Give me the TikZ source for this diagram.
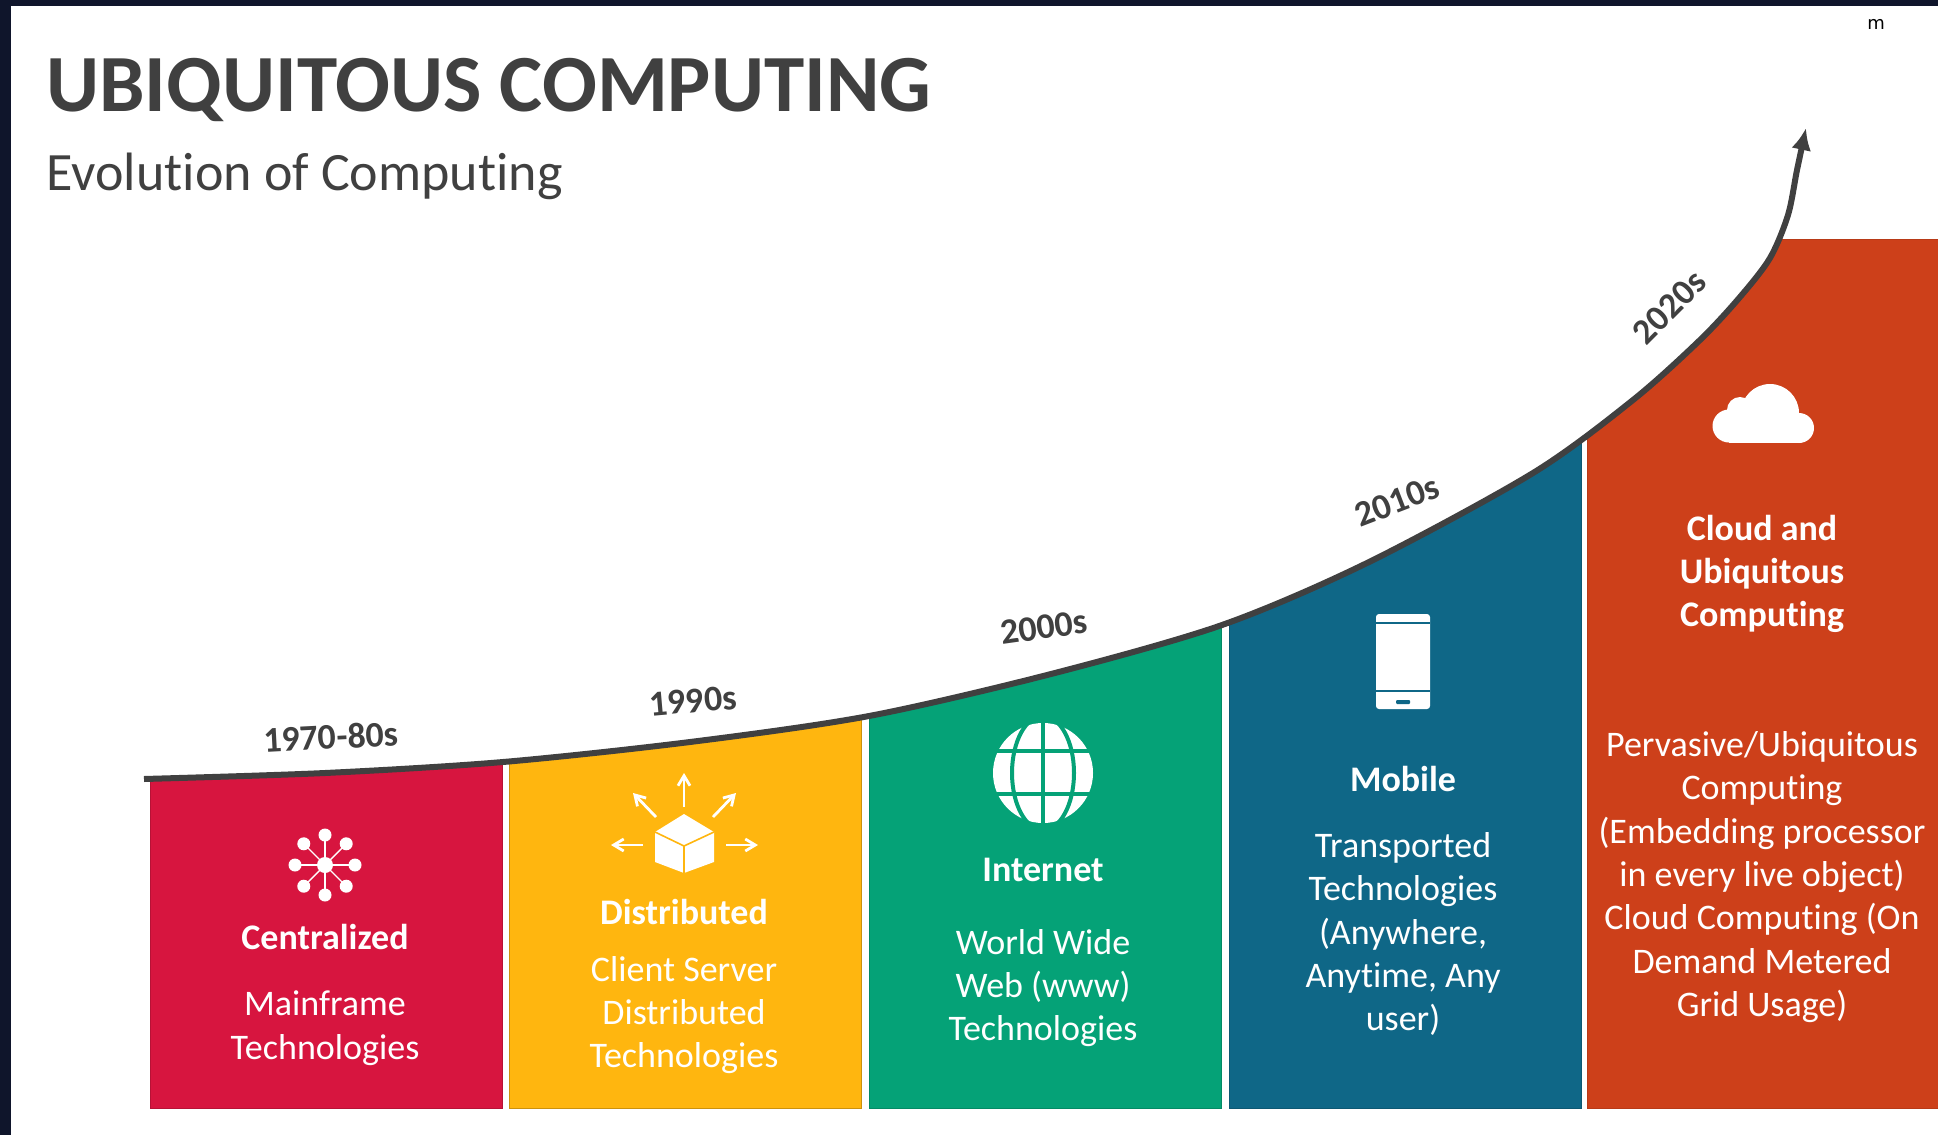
\documentclass[tikz,border=0pt]{standalone}
\usepackage{fontspec}
\usepackage{tikz}
\usetikzlibrary{arrows.meta, positioning}
\setmainfont[Ligatures=NoCommon]{Carlito}
\newfontfamily\uifont{DejaVu Sans}
\definecolor{navy}{HTML}{0F152B}
\definecolor{ink}{HTML}{404040}
\definecolor{crimson}{HTML}{D7153F}
\definecolor{amber}{HTML}{FFB60F}
\definecolor{jade}{HTML}{05A277}
\definecolor{petrol}{HTML}{0F6787}
\definecolor{rust}{HTML}{CD401A}
\tikzstyle{panel}=[rectangle,inner sep=0,minimum width=176pt]
\tikzstyle{head}=[text=white,align=center,inner sep=0,font=\fontsize{18}{21.7}\selectfont\bfseries]
\tikzstyle{body}=[text=white,align=center,inner sep=0,font=\fontsize{18}{21.7}\selectfont]
\tikzstyle{year}=[text=ink,inner sep=0,font=\fontsize{18}{20}\selectfont\bfseries]
\begin{document}
\begin{tikzpicture}[x=.5pt,y=-.5pt,>={Latex[length=11pt,width=10pt]}]
  \useasboundingbox (0,0) rectangle (1938,1135);
  \fill[navy] (0,0) rectangle (1938,6);
  \fill[navy] (0,0) rectangle (11,1135);

  \coordinate (r0) at (144,779);
  \coordinate (r1) at (325,773);
  \coordinate (r2) at (503,762);
  \coordinate (r3) at (690,742);
  \coordinate (r4) at (869,716);
  \coordinate (r5) at (1051,674);
  \coordinate (r6) at (1222,625);
  \coordinate (r7) at (1367,563);
  \coordinate (r8) at (1533,473);
  \coordinate (r9) at (1633,400);
  \coordinate (r10) at (1700,340);
  \coordinate (r11) at (1740,297);
  \coordinate (r12) at (1770,258);
  \coordinate (r13) at (1788,215);
  \coordinate (r14) at (1797,170);
  \coordinate (r15) at (1806,128);
  \def\risecurve{plot[smooth] coordinates {(r0) (r1) (r2) (r3) (r4) (r5) (r6) (r7) (r8) (r9) (r10) (r11) (r12) (r13) (r14) (r15)}}

  \begin{scope}
    \clip \risecurve -- (1938,128) -- (1938,1109) -- (144,1109) -- cycle;
    \node[panel,fill=crimson,draw=crimson!85!black,minimum height=345pt,anchor=south west] (box0) at (150,1109) {};
    \node[panel,fill=amber,draw=amber!80!black,minimum height=345pt,anchor=south west] (box1) at (509,1109) {};
    \node[panel,fill=jade,draw=jade!85!black,minimum height=345pt,anchor=south west] (box2) at (869,1109) {};
    \node[panel,fill=petrol,draw=petrol!85!black,minimum height=345pt,anchor=south west] (box3) at (1229,1109) {};
    \node[panel,fill=rust,draw=rust!90!black,minimum height=434.5pt,anchor=south west] (box4) at (1587,1109) {};
  \end{scope}

  \draw[->,ink,line width=3pt] \risecurve;

  \node[text=ink,anchor=west,inner sep=0,font=\fontsize{40.6}{50}\selectfont\bfseries] (title) at (46,90) {UBIQUITOUS COMPUTING};
  \node[text=ink,anchor=west,inner sep=0,font=\fontsize{27}{30}\selectfont] (subtitle) at (46,176) {Evolution of Computing};
  \node[text=black,inner sep=0,font=\uifont\fontsize{9}{10}\selectfont] (corner) at (1876,24) {m};

  \node[year,rotate=3] (year0) at (331,737) {1970-80s};
  \node[year,rotate=5] (year1) at (693,701) {1990s};
  \node[year,rotate=8] (year2) at (1044,627) {2000s};
  \node[year,rotate=21] (year3) at (1397,501) {2010s};
  \node[year,rotate=45] (year4) at (1669,307) {2020s};

  \node[head] (head0) at (325,937) {Centralized};
  \node[body,below of=head0,node distance=45.5pt] (body0) {Mainframe\\Technologies};
  \node[head] (head1) at (684,912) {Distributed};
  \node[body,below of=head1,node distance=51.5pt] (body1) {Client Server\\Distributed\\Technologies};
  \node[head] (head2) at (1043,870) {Internet};
  \node[body,below of=head2,node distance=59pt] (body2) {World Wide\\Web (www)\\Technologies};
  \node[head] (head3) at (1403,779) {Mobile};
  \node[body,below of=head3,node distance=77.5pt] (body3) {Transported\\Technologies\\(Anywhere,\\Anytime, Any\\user)};
  \node[head] (head4) at (1762,574) {Cloud and\\Ubiquitous\\Computing};
  \node[body,below of=head4,node distance=151.5pt] (body4) {Pervasive/Ubiquitous\\Computing\\(Embedding processor\\in every live object)\\Cloud Computing (On\\Demand Metered\\Grid Usage)};

  \foreach \a in {0,45,...,315} {
    \draw[white,line width=.7pt] (325,865) -- ++(\a:29);
    \fill[white] (325,865) ++(\a:30) circle[radius=6.5];
  }
  \fill[white] (325,865) circle[radius=8];

  \fill[white] (684,814) -- (714,832) -- (714,862) -- (684,873) -- (655,862) -- (655,832) -- cycle;
  \draw[amber,line width=.8pt] (655,832) -- (684,846) -- (714,832) (684,846) -- (684,873);
  \foreach \sx/\sy/\ex/\ey in {684/807/684/773, 656/817/633/793, 713/817/736/793, 643/845/611/845, 726/845/758/845}
    \draw[white,line width=1.4pt,-{Straight Barb[length=5pt,width=6pt]}] (\sx,\sy) -- (\ex,\ey);

  \fill[white] (1043,773) circle[radius=50];
  \draw[jade,line width=2pt] (1043,720) -- (1043,826);
  \draw[jade,line width=2pt] (1043,773) circle[x radius=31,y radius=57];
  \draw[jade,line width=2pt] (990,751) -- (1096,751) (990,794) -- (1096,794);

  \fill[white,rounded corners=1.5pt] (1376,614) rectangle (1430,709);
  \draw[petrol,line width=.7pt] (1376,623) -- (1430,623) (1376,691) -- (1430,691);
  \fill[petrol,rounded corners=.5pt] (1396,700) rectangle (1410,704);

  \fill[white] (1770,413) circle[radius=29];
  \fill[white] (1799,428) circle[radius=15];
  \fill[white] (1729,426) circle[radius=16.5];
  \fill[white] (1740,410) circle[radius=13];
  \fill[white] (1729,425) rectangle (1799,443);
\end{tikzpicture}
\end{document}
